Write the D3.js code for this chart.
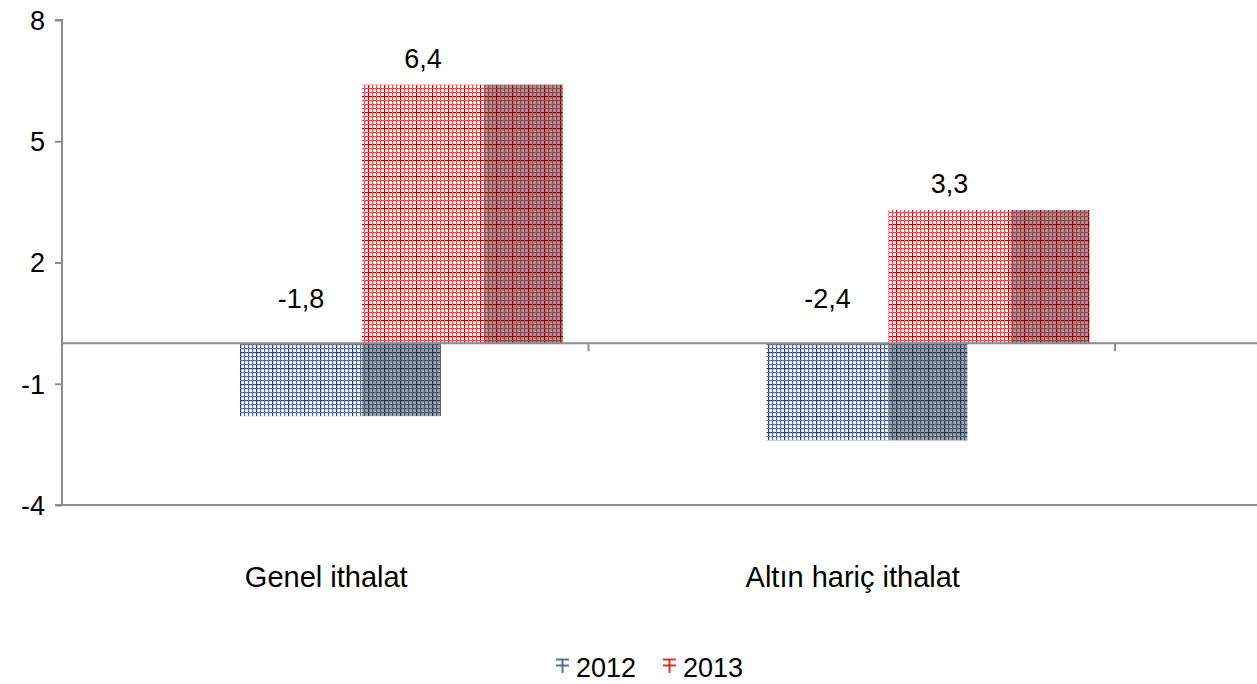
<!DOCTYPE html>
<html><head><meta charset="utf-8">
<script src="https://cdn.jsdelivr.net/npm/d3@7"></script>
<style>
html,body{margin:0;padding:0;background:#fff;}
svg{display:block;font-family:"Liberation Sans",Arial,sans-serif;}
</style></head>
<body>
<svg id="c" width="1257" height="684"></svg>
<script>
const categories = ["Genel ithalat", "Altın hariç ithalat"];
const seriesNames = ["2012", "2013"];
const values2012 = [-1.8, -2.4];
const values2013 = [6.4, 3.3];
const yTicks = [8, 5, 2, -1, -4];

const svg = d3.select("#c");
const defs = svg.append("defs");
const FS = "27px";

function makePattern(id, bg, line, strong) {
  const p = defs.append("pattern").attr("id", id).attr("patternUnits", "userSpaceOnUse")
    .attr("width", 16).attr("height", 16);
  p.append("rect").attr("width", 16).attr("height", 16).attr("fill", bg);
  for (let i = 0; i < 16; i += 4) {
    p.append("rect").attr("x", i).attr("y", 0).attr("width", 1.2).attr("height", 16).attr("fill", i === 0 ? strong : line);
    p.append("rect").attr("x", 0).attr("y", i).attr("width", 16).attr("height", 1.2).attr("fill", i === 0 ? strong : line);
  }
}
makePattern("bF", "#ffffff", "#56709a", "#2b4469");
makePattern("bS", "#a3a5a9", "#465873", "#22324b");
makePattern("rF", "#ffffff", "#e05050", "#c40000");
makePattern("rS", "#a39a9a", "#9a4646", "#850000");
const fills = {"2012": ["bF", "bS"], "2013": ["rF", "rS"]};
const legColors = {"2012": "#3f5a80", "2013": "#d01818"};

const y = d3.scaleLinear().domain([-4, 8]).range([505, 20]);
const x = d3.scaleBand().domain(categories).range([62, 1115]).padding(0);
const bw = x.bandwidth();
const xs = d3.scaleBand().domain(seriesNames).range([0.338 * bw, (0.338 + 2 * 0.2317) * bw]).padding(0);
const sideW = 0.150 * bw;

const axisColor = "#8c8c8c";

// y axis
const yAxis = d3.axisLeft(y).tickValues(yTicks).tickSize(7).tickPadding(10).tickFormat(d3.format("d"));
const gy = svg.append("g").attr("transform", "translate(62,0)").call(yAxis);
gy.select(".domain").attr("stroke", axisColor).attr("stroke-width", 2).attr("d", "M-7,20H0V505H-7");
gy.selectAll(".tick line").attr("stroke", axisColor).attr("stroke-width", 2);
gy.selectAll(".tick text").attr("fill", "#000").style("font-size", FS).attr("dy", "0.35em")
  .text(d => d < 0 ? "-" + Math.abs(d) : d);

// floor bottom line
svg.append("line").attr("x1", 62).attr("x2", 1257).attr("y1", y(-4)).attr("y2", y(-4))
  .attr("stroke", axisColor).attr("stroke-width", 2);

const data = [];
categories.forEach((c, i) => {
  data.push({cat: c, s: "2012", v: values2012[i]});
  data.push({cat: c, s: "2013", v: values2013[i]});
});

const fmt = v => d3.format(".1f")(v).replace(".", ",").replace("−", "-");

const bars = svg.append("g");
data.forEach(d => {
  const x0 = x(d.cat) + xs(d.s);
  const w = xs.bandwidth();
  const top = Math.min(y(0), y(d.v));
  const h = Math.abs(y(d.v) - y(0));
  bars.append("rect").attr("x", x0 + w).attr("y", top).attr("width", sideW).attr("height", h)
    .attr("fill", `url(#${fills[d.s][1]})`);
  bars.append("rect").attr("x", x0).attr("y", top).attr("width", w).attr("height", h)
    .attr("fill", `url(#${fills[d.s][0]})`);
});

// zero line with category ticks
svg.append("line").attr("x1", 62).attr("x2", 1257).attr("y1", y(0)).attr("y2", y(0))
  .attr("stroke", axisColor).attr("stroke-width", 2);
const boundaries = [x(categories[1]), x(categories[1]) + bw];
boundaries.forEach(b => {
  svg.append("line").attr("x1", b).attr("x2", b).attr("y1", y(0)).attr("y2", y(0) + 8)
    .attr("stroke", axisColor).attr("stroke-width", 2);
});

// value labels
svg.append("g").selectAll("text").data(data).join("text")
  .attr("x", d => x(d.cat) + xs(d.s) + xs.bandwidth() / 2)
  .attr("y", d => d.v >= 0 ? y(d.v) - 17 : y(0) - 35)
  .attr("text-anchor", "middle").style("font-size", FS).attr("fill", "#000")
  .text(d => fmt(d.v));

// category labels
svg.append("g").selectAll("text").data(categories).join("text")
  .attr("x", d => x(d) + bw / 2 + 1).attr("y", 587)
  .attr("text-anchor", "middle").style("font-size", "29px").attr("fill", "#000")
  .text(d => d);

// legend
const leg = svg.append("g");
const legItems = [{s: "2012", x: 556}, {s: "2013", x: 663}];
legItems.forEach(it => {
  const c = legColors[it.s];
  const g = leg.append("g").attr("transform", `translate(${it.x},658)`);
  g.append("line").attr("x1", 0).attr("x2", 13).attr("y1", 1.5).attr("y2", 1.5).attr("stroke", c).attr("stroke-width", 2).attr("opacity", 0.85);
  g.append("line").attr("x1", 0).attr("x2", 13).attr("y1", 7.5).attr("y2", 7.5).attr("stroke", c).attr("stroke-width", 2).attr("opacity", 0.85);
  g.append("line").attr("x1", 6.5).attr("x2", 6.5).attr("y1", 1).attr("y2", 15).attr("stroke", c).attr("stroke-width", 2).attr("opacity", 0.85);
  leg.append("text").attr("x", it.x + 20).attr("y", 677).style("font-size", FS).attr("fill", "#000").text(it.s);
});
</script>
</body></html>
